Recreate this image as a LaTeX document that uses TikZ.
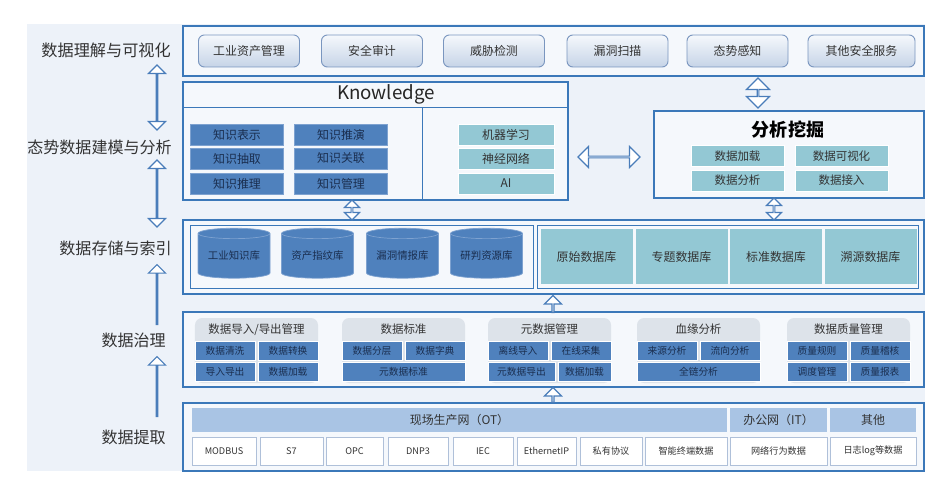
\documentclass[tikz,border=0pt]{standalone}
\usepackage{fontspec}
\setmainfont{Noto Sans CJK SC}
\usepackage{tikz}
\usetikzlibrary{shapes.geometric, shapes.arrows, positioning, calc}
\definecolor{layerBlue}{HTML}{3B78B9}
\definecolor{panelBg}{HTML}{EDF2F9}
\definecolor{boxBg}{HTML}{F5F8FC}
\definecolor{cellBlue}{HTML}{4F81BD}
\definecolor{cellEdge}{HTML}{7EA2D0}
\definecolor{cellTeal}{HTML}{93C8D4}
\definecolor{headBlue}{HTML}{A9C4E4}
\definecolor{headGray}{HTML}{DDE3EA}
\definecolor{btnTop}{HTML}{F5F8FC}
\definecolor{btnBottom}{HTML}{C6D4E7}
\definecolor{btnEdge}{HTML}{7A96BF}
\definecolor{textDark}{HTML}{333333}
\definecolor{textNavy}{HTML}{1A2E4F}
\definecolor{arrowBlue}{HTML}{4A7DBA}

\begin{document}
\begin{tikzpicture}[
  x=0.03cm, y=-0.03cm,
  layer/.style={draw=layerBlue, line width=1.1pt, fill=boxBg, inner sep=0pt},
  subbox/.style={draw=layerBlue, line width=0.8pt, fill=boxBg, inner sep=0pt},
  sidelabel/.style={anchor=east, inner sep=0pt, text=textDark, font=\fontsize{13.7}{16}\selectfont},
  btn/.style={draw=btnEdge, line width=0.8pt, rounded corners=5pt, top color=btnTop, bottom color=btnBottom,
    minimum width=3.03cm, minimum height=0.96cm, text=textDark, font=\fontsize{10.2}{12}\selectfont},
  kcell/.style={fill=cellBlue, draw=cellEdge, line width=0.4pt, minimum width=2.79cm, minimum height=0.63cm,
    inner sep=0pt, text=textNavy, font=\fontsize{10.2}{12}\selectfont},
  tcell/.style={fill=cellTeal, draw=white, line width=0.4pt, minimum width=2.79cm, minimum height=0.62cm,
    inner sep=0pt, text=textDark, font=\fontsize{9.8}{12}\selectfont},
  scell/.style={fill=cellTeal, minimum width=2.76cm, minimum height=1.65cm, inner sep=0pt,
    text=textDark, font=\fontsize{10.2}{12}\selectfont},
  dbcyl/.style={cylinder, shape border rotate=90, aspect=0.2, fill=cellBlue, draw=cellEdge, line width=0.6pt,
    minimum width=2.16cm, minimum height=1.5cm, inner sep=0pt, text=textNavy, font=\fontsize{8.9}{10}\selectfont},
  govgroup/.style={fill=headGray, rounded corners=6pt, minimum width=3.69cm, minimum height=1.95cm, inner sep=0pt},
  gtitle/.style={text=textDark, font=\fontsize{9.8}{12}\selectfont},
  gcell/.style={fill=cellBlue, draw=white, line width=0.5pt, minimum width=1.8cm, minimum height=0.58cm,
    inner sep=0pt, text=textNavy, font=\fontsize{8.3}{10}\selectfont},
  nethead/.style={fill=headBlue, minimum height=0.72cm, inner sep=0pt, text=textDark, font=\fontsize{10.2}{12}\selectfont},
  proto/.style={fill=white, draw=btnEdge!60, line width=0.6pt, minimum height=0.84cm, inner sep=0pt,
    text=textDark, font=\fontsize{7.8}{10}\selectfont},
  dblarrow/.style={double arrow, draw=arrowBlue, fill=white, line width=1pt, inner sep=0pt},
  uparrow/.style={single arrow, draw=arrowBlue, fill=white, line width=1pt, inner sep=0pt, rotate=90}
]
  % Background
  \useasboundingbox (0,0) rectangle (925,482);
  \fill[white] (0,0) rectangle (925,482);
  \fill[panelBg] (27,24) rectangle (925,471);

  % Layers
  \node[layer, minimum width=22.23cm, minimum height=1.5cm] (vis) at (553.5,51) {};
  \node[layer, minimum width=11.55cm, minimum height=3.54cm] (know) at (375.5,141) {};
  \node[layer, minimum width=8.1cm, minimum height=2.61cm] (mine) at (789,154.5) {};
  \node[layer, minimum width=22.23cm, minimum height=2.22cm] (store) at (553.5,257) {};
  \node[layer, minimum width=22.23cm, minimum height=2.25cm] (gov) at (553.5,349.5) {};
  \node[layer, minimum width=22.23cm, minimum height=2.04cm] (extract) at (553.5,437) {};

  % Layer names
  \node[sidelabel, font=\fontsize{13.8}{16}\selectfont] (lvis) at (171,50) {数据理解与可视化};
  \node[sidelabel] (lmodel) at (172,147) {态势数据建模与分析};
  \node[sidelabel] (lstore) at (172,248) {数据存储与索引};
  \node[sidelabel] (lgov) at (166,340) {数据治理};
  \node[sidelabel] (lext) at (166,437) {数据提取};

  % Left arrows
  \node[dblarrow, rotate=90, minimum height=1.95cm, minimum width=0.51cm, double arrow head extend=0.165cm] (al1) at (157,97.5) {};
  \node[dblarrow, rotate=90, minimum height=2.01cm, minimum width=0.51cm, double arrow head extend=0.165cm] (al2) at (157,193.5) {};
  \node[uparrow, minimum height=1.8cm, minimum width=0.51cm, single arrow head extend=0.165cm] (al3) at (157,295) {};
  \node[uparrow, minimum height=1.8cm, minimum width=0.51cm, single arrow head extend=0.165cm] (al4) at (157,387) {};

  % Security services
  \node[btn] (b1) at (249,51) {工业资产管理};
  \node[btn] (b2) at (372,51) {安全审计};
  \node[btn] (b3) at (494,51) {威胁检测};
  \node[btn] (b4) at (617.5,51) {漏洞扫描};
  \node[btn] (b5) at (737.5,51) {态势感知};
  \node[btn, minimum width=3.21cm] (b6) at (861.5,51) {其他安全服务};

  % Knowledge
  \node[minimum width=11.55cm, minimum height=0.75cm, inner sep=0pt] (kbar) at (375.5,94.5) {};
  \node[font=\fontsize{16}{18}\selectfont, text=black!85] (ktitle) at (386,94.5) {Knowledge};
  \draw[layerBlue, line width=0.8pt] (kbar.south west) -- (kbar.south east);
  \draw[layerBlue, line width=0.8pt] (422,107) -- (422,200);
  \node[kcell] (k1) at (237,134.5) {知识表示};
  \node[kcell] (k2) at (237,158.5) {知识抽取};
  \node[kcell] (k3) at (237,183.5) {知识推理};
  \node[kcell] (k4) at (341,134.5) {知识推演};
  \node[kcell] (k5) at (341,158.5) {知识关联};
  \node[kcell] (k6) at (341,183.5) {知识管理};
  \node[tcell, minimum width=2.88cm, minimum height=0.63cm, font=\fontsize{10.2}{12}\selectfont] (ml1) at (506,134.5) {机器学习};
  \node[tcell, minimum width=2.88cm, minimum height=0.63cm, font=\fontsize{10.2}{12}\selectfont] (ml2) at (506,158.5) {神经网络};
  \node[tcell, minimum width=2.88cm, minimum height=0.63cm, font=\fontsize{10.2}{12}\selectfont] (ml3) at (506,183.5) {AI};

  % Mining
  \node[font=\fontsize{15.4}{18}\selectfont\bfseries, text=black] (mtitle) at (788,130) {分析挖掘};
  \node[tcell] (d1) at (737.5,156) {数据加载};
  \node[tcell] (d2) at (841.5,156) {数据可视化};
  \node[tcell] (d3) at (737.5,180.5) {数据分析};
  \node[tcell] (d4) at (841.5,180.5) {数据接入};

  % Arrows between upper layers
  \node[dblarrow, minimum height=1.86cm, minimum width=0.63cm, double arrow head extend=0.195cm] (akm) at (609,157) {};
  \node[dblarrow, rotate=90, minimum height=0.9cm, minimum width=0.69cm, double arrow head extend=0.225cm] (avm) at (758,93) {};
  \node[dblarrow, rotate=90, minimum height=0.6cm, minimum width=0.45cm, double arrow head extend=0.135cm] (aks) at (352,210) {};
  \node[dblarrow, rotate=90, minimum height=0.66cm, minimum width=0.45cm, double arrow head extend=0.135cm] (ams) at (774,209) {};

  % Storage
  \node[subbox, minimum width=10.29cm, minimum height=1.89cm] (libs) at (361.5,256.5) {};
  \node[subbox, minimum width=11.43cm, minimum height=1.89cm] (dbs) at (727.5,256.5) {};
  \node[dbcyl] (c1) at (234,256) {工业知识库};
  \node[dbcyl] (c2) at (317.5,256) {资产指纹库};
  \node[dbcyl] (c3) at (402.5,256) {漏洞情报库};
  \node[dbcyl] (c4) at (486.5,256) {研判资源库};
  \node[scell] (s1) at (586.5,256.5) {原始数据库};
  \node[scell] (s2) at (681.5,256.5) {专题数据库};
  \node[scell] (s3) at (776,256.5) {标准数据库};
  \node[scell] (s4) at (870.5,256.5) {溯源数据库};

  \node[uparrow, minimum height=0.51cm, minimum width=0.51cm, single arrow head extend=0.135cm] (asg) at (553,304.5) {};

  % Governance
  \node[govgroup] (g1) at (256.5,350.5) {};
  \node[gtitle] (g1t) at (256.5,329.5) {数据导入/导出管理};
  \node[gcell] (g1a) at (225,351) {数据清洗};
  \node[gcell] (g1b) at (288,351) {数据转换};
  \node[gcell] (g1c) at (225,372) {导入导出};
  \node[gcell] (g1d) at (288,372) {数据加载};

  \node[govgroup] (g2) at (403.5,350.5) {};
  \node[gtitle] (g2t) at (403.5,329.5) {数据标准};
  \node[gcell] (g2a) at (372,351) {数据分层};
  \node[gcell] (g2b) at (435,351) {数据字典};
  \node[gcell, minimum width=3.69cm] (g2c) at (403.5,372) {元数据标准};

  \node[govgroup] (g3) at (549.5,350.5) {};
  \node[gtitle] (g3t) at (549.5,329.5) {元数据管理};
  \node[gcell] (g3a) at (518,351) {离线导入};
  \node[gcell] (g3b) at (581,351) {在线采集};
  \node[gcell, minimum width=2.01cm] (g3c) at (521.5,372) {元数据导出};
  \node[gcell, minimum width=1.59cm] (g3d) at (584.5,372) {数据加载};

  \node[govgroup] (g4) at (698.5,350.5) {};
  \node[gtitle] (g4t) at (698.5,329.5) {血缘分析};
  \node[gcell] (g4a) at (667,351) {来源分析};
  \node[gcell] (g4b) at (730,351) {流向分析};
  \node[gcell, minimum width=3.69cm] (g4c) at (698.5,372) {全链分析};

  \node[govgroup] (g5) at (848.5,350.5) {};
  \node[gtitle] (g5t) at (848.5,329.5) {数据质量管理};
  \node[gcell] (g5a) at (817,351) {质量规则};
  \node[gcell] (g5b) at (880,351) {质量稽核};
  \node[gcell] (g5c) at (817,372) {调度管理};
  \node[gcell] (g5d) at (880,372) {质量报表};

  \node[uparrow, minimum height=0.45cm, minimum width=0.51cm, single arrow head extend=0.135cm] (aeg) at (553,395.5) {};

  % Extraction
  \node[nethead, minimum width=16.05cm] (ot) at (459.5,420) {现场生产网（OT）};
  \node[nethead, minimum width=2.91cm] (it) at (778.5,420) {办公网（IT）};
  \node[nethead, minimum width=2.58cm] (oth) at (873,420) {其他};
  \node[proto, minimum width=1.92cm] (p1) at (224,451) {MODBUS};
  \node[proto, minimum width=1.89cm] (p2) at (291.5,451) {S7};
  \node[proto, minimum width=1.71cm] (p3) at (354.5,451) {OPC};
  \node[proto, minimum width=1.8cm] (p4) at (418,451) {DNP3};
  \node[proto, minimum width=1.8cm] (p5) at (483,451) {IEC};
  \node[proto, minimum width=1.77cm] (p6) at (546.5,451) {EthernetIP};
  \node[proto, minimum width=1.86cm] (p7) at (611,451) {私有协议};
  \node[proto, minimum width=2.46cm] (p8) at (686,451) {智能终端数据};
  \node[proto, minimum width=2.91cm] (p9) at (778.5,451) {网络行为数据};
  \node[proto, minimum width=2.58cm] (p10) at (873,451) {日志log等数据};
\end{tikzpicture}
\end{document}
